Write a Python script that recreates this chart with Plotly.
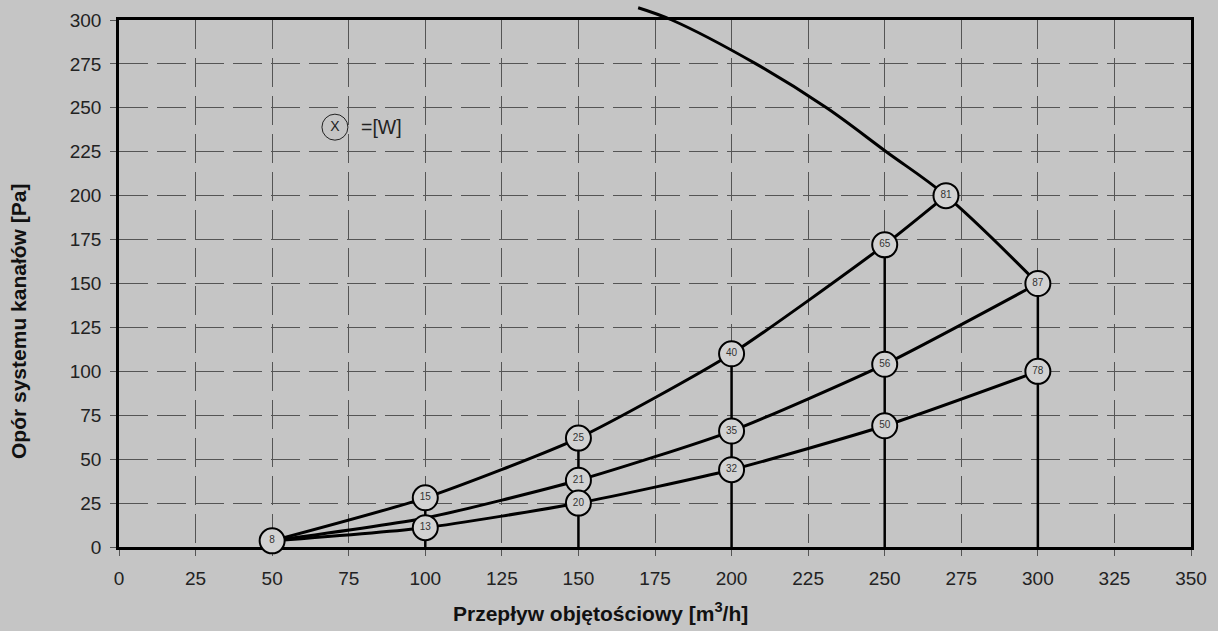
import plotly.graph_objects as go

# --- data ---
fan_x = [169.5, 180.5, 208, 231, 250.5, 270, 300]
fan_y = [307, 300, 275, 250, 225, 200, 150]

sys_a_x = [50, 100, 150, 200, 250, 270]
sys_a_y = [3.5, 28, 62, 110, 172, 200]
sys_b_x = [50, 100, 150, 200, 250, 300]
sys_b_y = [3.5, 16.5, 38, 66, 104, 150]
sys_c_x = [50, 100, 150, 200, 250, 300]
sys_c_y = [3.5, 11, 25, 44, 69, 100]

vert_x = [100, 150, 200, 250, 300]
vert_top = [28, 62, 110, 172, 150]

pt_x = [50, 100, 100, 150, 150, 150, 200, 200, 200, 250, 250, 250, 270, 300, 300]
pt_y = [3.5, 28, 11, 62, 38, 25, 110, 66, 44, 172, 104, 69, 200, 150, 100]
pt_w = ["8", "15", "13", "25", "21", "20", "40", "35", "32", "65", "56", "50", "81", "87", "78"]

legend_x = [70.5]
legend_y = [239]

x_ticks = list(range(0, 351, 25))
y_ticks = list(range(0, 301, 25))

BG = "#c5c5c5"
FONT = "Liberation Sans, Arial, sans-serif"

# layout geometry (pixels)
W, H = 1218, 631
L, R, B = 119, 27, 84
PLOT_TOP = 20                     # top edge of the framed plot area
ph_total = H - B                  # drawing height with zero top margin
pw = W - L - R
main_frac = (ph_total - PLOT_TOP) / ph_total
Y_MAX = 300

fig = go.Figure()

# All marks live on a second axis pair (same scale as the framed axes) whose
# area reaches above the frame, so the fan curve can run past the top edge.
TR = dict(xaxis="x2", yaxis="y2")

fig.add_trace(go.Scatter(x=fan_x, y=fan_y, mode="lines", **TR,
                         line=dict(color="black", width=3, shape="spline", smoothing=1.0)))

vx, vy = [], []
for x, t in zip(vert_x, vert_top):
    vx += [x, x, None]
    vy += [0, t, None]
fig.add_trace(go.Scatter(x=vx, y=vy, mode="lines", **TR,
                         line=dict(color="black", width=2.5), hoverinfo="skip"))

for xs, ys in [(sys_a_x, sys_a_y), (sys_b_x, sys_b_y), (sys_c_x, sys_c_y)]:
    fig.add_trace(go.Scatter(x=xs, y=ys, mode="lines", **TR,
                             line=dict(color="black", width=3, shape="spline", smoothing=0.6)))

fig.add_trace(go.Scatter(x=pt_x, y=pt_y, mode="markers+text", text=pt_w, **TR,
                         textposition="middle center", cliponaxis=False,
                         textfont=dict(family=FONT, size=10, color="#333333"),
                         marker=dict(size=25, color="#d2d2d2",
                                     line=dict(color="black", width=2))))

fig.add_trace(go.Scatter(x=legend_x, y=legend_y, mode="markers+text", text=["X"], **TR,
                         textposition="middle center",
                         textfont=dict(family=FONT, size=14, color="#222222"),
                         marker=dict(size=26, color="rgba(0,0,0,0)",
                                     line=dict(color="#222222", width=1))))

fig.add_annotation(x=78.5, y=239, xref="x", yref="y", text="=[W]", showarrow=False,
                   xanchor="left", yanchor="middle",
                   font=dict(family=FONT, size=19.5, color="#222222"))

fig.add_annotation(x=(600 - L) / pw, y=(H - B - 612) / ph_total, xref="paper", yref="paper",
                   text="<b>Przepływ objętościowy [m<sup>3</sup>/h]</b>", showarrow=False,
                   xanchor="center", yanchor="middle",
                   font=dict(family=FONT, size=21, color="#111111"))
fig.add_annotation(x=(18 - L) / pw, y=(H - B - 322) / ph_total, xref="paper", yref="paper",
                   textangle=-90, xanchor="center", yanchor="middle",
                   text="<b>Opór systemu kanałów [Pa]</b>", showarrow=False,
                   font=dict(family=FONT, size=21, color="#111111"))

grid = dict(showgrid=True, gridcolor="#555555", gridwidth=1, griddash="29px,9px",
            showline=True, linecolor="black", linewidth=2.5, mirror=True,
            ticks="outside", ticklen=6, tickcolor="#555555", tickwidth=1,
            zeroline=False, automargin=False,
            tickfont=dict(family=FONT, size=19, color="#222222"))

fig.update_layout(
    xaxis=dict(range=[0, 350], tickvals=x_ticks, ticklabelstandoff=6, domain=[0, 1], **grid),
    yaxis=dict(range=[0, Y_MAX], tickvals=y_ticks, ticklabelstandoff=5,
               domain=[0, main_frac], **grid),
    xaxis2=dict(range=[0, 350], domain=[0, 1], anchor="y2", visible=False, automargin=False),
    yaxis2=dict(range=[0, Y_MAX / main_frac], domain=[0, 1], anchor="x2", visible=False,
                automargin=False),
    width=W, height=H, showlegend=False,
    margin=dict(l=L, r=R, t=0, b=B, autoexpand=False),
    paper_bgcolor=BG, plot_bgcolor="rgba(0,0,0,0)",
    font=dict(family=FONT),
)

fig.write_html("out.html", config={"displayModeBar": False},
               post_script="document.body.style.margin='0';document.body.style.overflow='hidden';")
